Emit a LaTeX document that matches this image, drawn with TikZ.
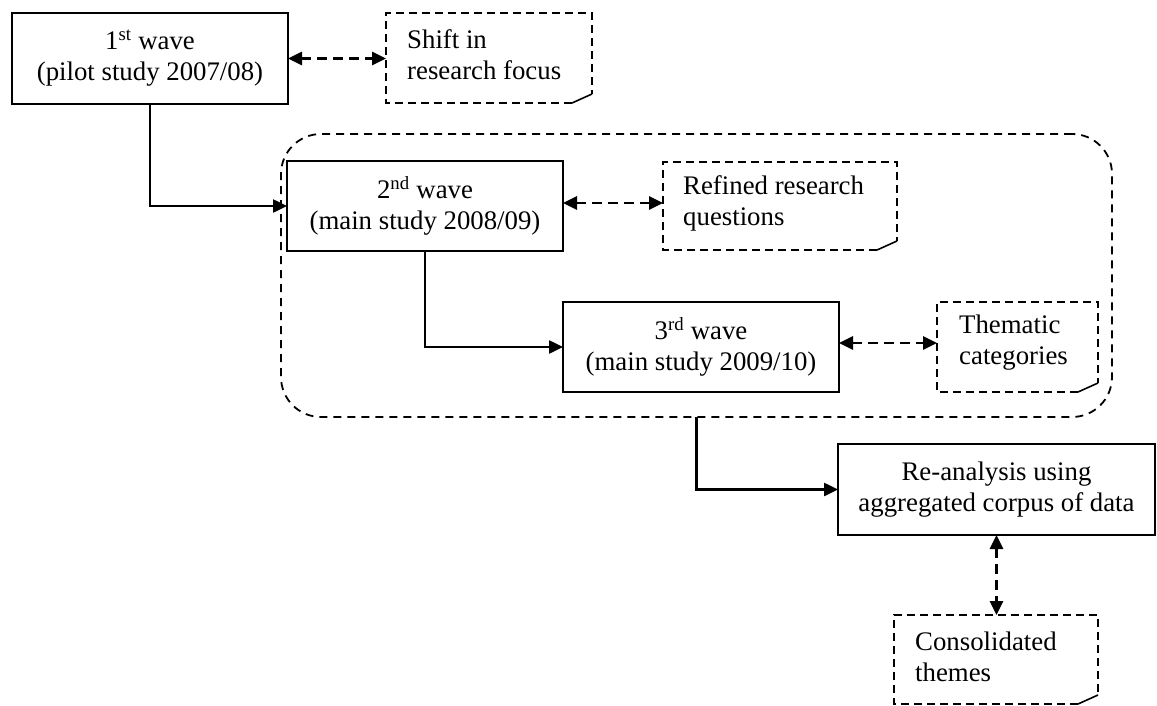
\documentclass[tikz,border=0pt]{standalone}
\usepackage{fontspec}
\setmainfont{Liberation Serif}
\usetikzlibrary{arrows.meta,calc}
\begin{document}
\begin{tikzpicture}[x=1pt,y=-1pt,
  font=\fontsize{26.8pt}{31pt}\selectfont,
  wavebox/.style={draw,line width=2.5pt,align=center,inner sep=0pt,outer sep=0pt,
    minimum width=276pt,minimum height=91pt},
  noteframe/.style={inner sep=0pt,outer sep=0pt},
  notetext/.style={align=left,inner sep=0pt,anchor=west},
  noteline/.style={line width=1.8pt,dash pattern=on 8pt off 5pt},
  groupline/.style={line width=1.8pt,dash pattern=on 8pt off 6pt,rounded corners=40pt},
  flow/.style={line width=2.5pt,-{Triangle[length=14pt,width=13pt]}},
  duplex/.style={line width=2.8pt,dash pattern=on 10pt off 6pt,
    {Triangle[length=14pt,width=13pt]}-{Triangle[length=14pt,width=13pt]}},
  curlfill/.style={fill=gray!35},
  curlline/.style={line width=1.6pt}]
\useasboundingbox (0,0) rectangle (1157,706);

% dashed rounded group around the two main-study waves
\node[draw,groupline,inner sep=0pt,outer sep=0pt,minimum width=831pt,minimum height=283pt]
  (grp) at (696.5,275.5) {};

% waves
\node[wavebox] (w1) at (150,58.5) {1\textsuperscript{st} wave\\(pilot study 2007/08)};
\node[wavebox,minimum height=90pt] (w2) at (425,206) {2\textsuperscript{nd} wave\\(main study 2008/09)};
\node[wavebox,minimum height=90pt] (w3) at (701,347) {3\textsuperscript{rd} wave\\(main study 2009/10)};
\node[wavebox,minimum width=317pt] (w4) at (996.5,489.5) {Re-analysis using\\aggregated corpus of data};

% note frames
\node[noteframe,minimum width=206pt,minimum height=90pt] (n1) at (489,58) {};
\node[noteframe,minimum width=234pt,minimum height=88pt] (n2) at (780,206) {};
\node[noteframe,minimum width=161pt,minimum height=90pt] (n3) at (1017.5,347) {};
\node[noteframe,minimum width=204pt,minimum height=89pt] (n4) at (996,659.5) {};

% note texts
\node[notetext] (t1) at ($(n1.west)+(21,-3)$) {Shift in\\research focus};
\node[notetext] (t2) at ($(n2.west)+(20,-3)$) {Refined research\\questions};
\node[notetext] (t3) at ($(n3.west)+(22,-4)$) {Thematic\\categories};
\node[notetext] (t4) at ($(n4.west)+(21,-3)$) {Consolidated\\themes};

% note outlines with a curled lower-right corner
\foreach \n in {n1,n2,n3,n4}{
  \fill[curlfill] ($(\n.south east)+(-20,0)$) -- ($(\n.south east)+(0,-9)$)
    -- ($(\n.south east)+(-12,-4)$) -- cycle;
  \draw[noteline] ($(\n.south east)+(-20,0)$) -- (\n.south west) -- (\n.north west)
    -- (\n.north east) -- ($(\n.south east)+(0,-9)$);
  \draw[curlline] ($(\n.south east)+(-20,0)$) -- ($(\n.south east)+(0,-9)$);
}

% flow between waves
\draw[flow] (w1.south) |- (w2.west);
\draw[flow] (w2.south) |- (w3.west);
\draw[flow] (grp.south) |- (w4.west);

% links to notes
\draw[duplex] (w1.east) -- (w1.east -| n1.west);
\draw[duplex] ($(w2.east)+(0,-3)$) -- ($(w2.east -| n2.west)+(0,-3)$);
\draw[duplex] ($(w3.east)+(0,-4)$) -- ($(w3.east -| n3.west)+(0,-4)$);
\draw[duplex] (w4.south) -- (w4.south |- n4.north);
\end{tikzpicture}
\end{document}
